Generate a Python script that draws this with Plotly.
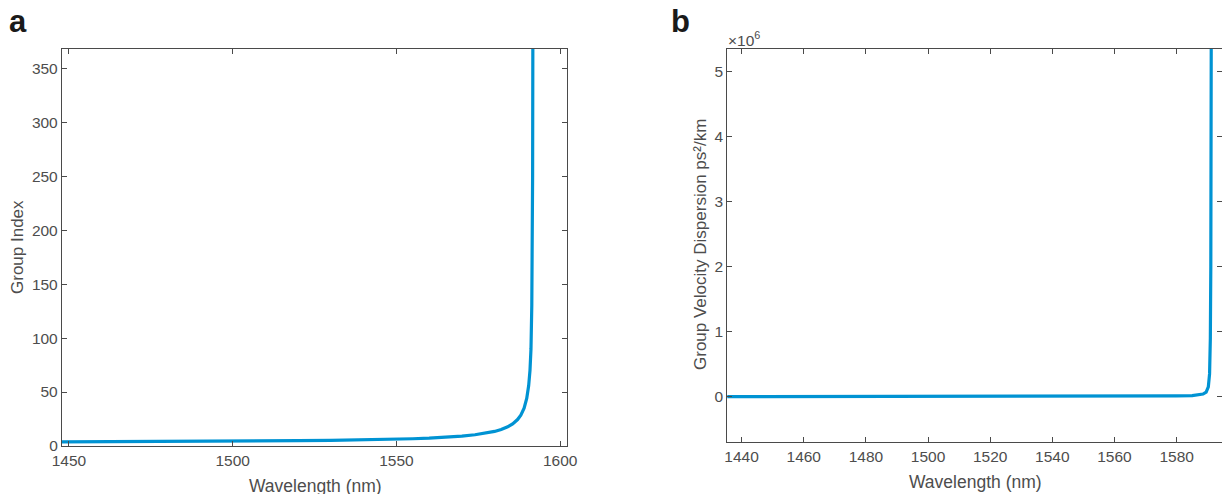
import plotly.graph_objects as go

# Panel a: group index vs wavelength
wl_a = [1447, 1460, 1480, 1500, 1510, 1520, 1530, 1540, 1550, 1555, 1560, 1565,
        1570, 1574, 1577, 1580, 1582, 1584, 1585.5, 1587, 1588, 1589, 1589.8,
        1590.4, 1590.8, 1591.1, 1591.35, 1591.5, 1591.6, 1591.7]
ng_a = [3.9, 4.0, 4.2, 4.5, 4.7, 4.9, 5.3, 5.7, 6.3, 6.7, 7.3, 8.1,
        9.2, 10.4, 11.7, 13.5, 15.3, 17.8, 20.5, 24.5, 28.5, 35, 44,
        56, 70, 90, 130, 180, 250, 420]

# Panel b: group velocity dispersion (ps^2/km) vs wavelength
wl_b = [1435, 1460, 1500, 1540, 1560, 1570, 1580, 1585, 1587, 1588.5, 1589.5,
        1590.2, 1590.6, 1590.85, 1591.0, 1591.1, 1591.2]
gvd_b = [0, 200, 800, 2500, 4500, 7000, 11000, 16000, 25000, 40000, 70000,
         150000, 350000, 900000, 2000000, 4000000, 7000000]

a_xticks = [1450, 1500, 1550, 1600]
a_yticks = [0, 50, 100, 150, 200, 250, 300, 350]
b_xticks = [1440, 1460, 1480, 1500, 1520, 1540, 1560, 1580]
b_yticks = [0, 1, 2, 3, 4, 5]

W, H = 1222, 494
line_color = "#0093D3"
axis_color = "#4a4a4a"
text_color = "#4d4d4d"
font_family = "Liberation Sans, Arial, sans-serif"

fig = go.Figure()
fig.add_trace(go.Scatter(x=wl_a, y=ng_a, mode="lines",
                         line=dict(color=line_color, width=3.2),
                         xaxis="x", yaxis="y", showlegend=False))
fig.add_trace(go.Scatter(x=wl_b, y=gvd_b, mode="lines",
                         line=dict(color=line_color, width=3.2),
                         xaxis="x2", yaxis="y2", showlegend=False))

common_axis = dict(showgrid=False, zeroline=False, showline=True,
                   linecolor=axis_color, linewidth=1.3, mirror="ticks",
                   ticks="inside", ticklen=5, tickwidth=1.2, tickcolor=axis_color,
                   automargin=False,
                   tickfont=dict(family=font_family, size=15.5, color=text_color))

xa0, xa1 = 62 / W, 567 / W
xb0, xb1 = 727.3 / W, 1.0
ytop = 1 - 49 / H
ya_bot = 1 - 446 / H
yb_bot = 1 - 442 / H

fig.update_layout(
    width=W, height=H,
    margin=dict(l=0, r=0, t=0, b=0, pad=0, autoexpand=False),
    paper_bgcolor="white", plot_bgcolor="white",
    font=dict(family=font_family, color=text_color),
    xaxis=dict(domain=[xa0, xa1], range=[1447.9, 1602.1], tickvals=a_xticks,
               anchor="y", **common_axis),
    yaxis=dict(domain=[ya_bot, ytop], range=[0, 368], tickvals=a_yticks,
               anchor="x", **common_axis),
    xaxis2=dict(domain=[xb0, xb1], range=[1435.4, 1594.6], tickvals=b_xticks,
                anchor="y2", **common_axis),
    yaxis2=dict(domain=[yb_bot, ytop], range=[-0.696e6, 5.34e6],
                tickvals=[v * 1e6 for v in b_yticks],
                ticktext=[str(v) for v in b_yticks],
                anchor="x2", **common_axis),
)

def ann(text, x, y, size, color=text_color, bold=False, angle=0, xanchor="center", yanchor="middle"):
    fig.add_annotation(text=("<b>%s</b>" % text) if bold else text,
                       x=x / W, y=1 - y / H, xref="paper", yref="paper",
                       showarrow=False, textangle=angle,
                       xanchor=xanchor, yanchor=yanchor,
                       font=dict(family=font_family, size=size, color=color))

ann("a", 18, 21, 31, color="#1a1a1a", bold=True)
ann("b", 680, 21, 31, color="#1a1a1a", bold=True)
ann("Group Index", 17, 247, 17, angle=-90)
ann("Wavelength (nm)", 315, 486, 17.5)
ann("Group Velocity Dispersion ps²/km", 700, 245, 17, angle=-90)
ann("Wavelength (nm)", 975, 482, 17.5)
ann("×10<sup>6</sup>", 726, 39, 15.5, xanchor="left")

fig.write_html("out.html")
